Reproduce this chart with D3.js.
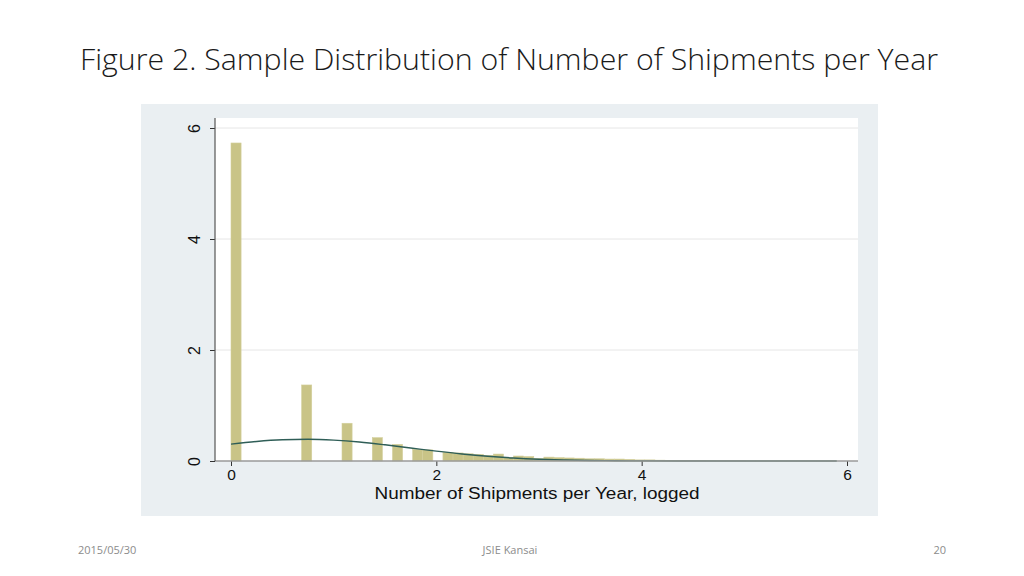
<!DOCTYPE html>
<html>
<head>
<meta charset="utf-8">
<script src="https://cdn.jsdelivr.net/npm/d3@7"></script>
<style>
  body { margin: 0; background: #fff; }
</style>
</head>
<body>
<script>
// Histogram: bin width (log units) and density for each bin starting at 0
var binWidth = 0.0983;
var density = [5.73, 0, 0, 0, 0, 0, 0, 1.37, 0, 0, 0, 0.68, 0, 0, 0.42, 0, 0.30, 0, 0.21, 0.20,
  0, 0.155, 0.145, 0.13, 0.12, 0.10, 0.125, 0.06, 0.09, 0.08, 0.045, 0.07, 0.06, 0.055, 0.05,
  0.04, 0.04, 0.035, 0.035, 0.03, 0.02, 0.02, 0.015, 0.01, 0.01, 0.008, 0.006, 0.005, 0.004,
  0.003, 0.003, 0.002, 0.002, 0.002, 0.001, 0.001, 0.001, 0.001, 0.001, 0.001];

// Normal density overlay
var curveX = [0, 0.25, 0.5, 0.75, 1.0, 1.25, 1.5, 1.75, 2.0, 2.25, 2.5, 2.75, 3.0, 3.25, 3.5, 3.75, 4.0, 4.5, 5.0, 5.9];
var curveY = [0.305, 0.352, 0.382, 0.391, 0.376, 0.342, 0.292, 0.235, 0.178, 0.127, 0.085, 0.054, 0.032, 0.018, 0.0096, 0.0047, 0.0022, 0.0003, 0, 0];

var xTicks = [0, 2, 4, 6];
var yTicks = [0, 2, 4, 6];

var svgWidth = 1024, svgHeight = 576;

var svg = d3.select("body").append("svg")
  .attr("width", svgWidth)
  .attr("height", svgHeight);

// slide title
svg.append("text")
  .attr("x", 80)
  .attr("y", 70)
  .attr("font-family", "Open Sans")
  .attr("font-weight", 300)
  .attr("font-size", 29)
  .attr("fill", "#1a1a1a")
  .attr("textLength", 858)
  .attr("lengthAdjust", "spacingAndGlyphs")
  .text("Figure 2. Sample Distribution of Number of Shipments per Year");

// graph region
svg.append("rect")
  .attr("x", 141).attr("y", 104)
  .attr("width", 737).attr("height", 412)
  .attr("fill", "#eaeff2");

var plot = { left: 215, right: 858, top: 118, bottom: 461 };

svg.append("rect")
  .attr("x", plot.left).attr("y", plot.top)
  .attr("width", plot.right - plot.left).attr("height", plot.bottom - plot.top)
  .attr("fill", "#fff");

var x = d3.scaleLinear().domain([0, 6]).range([231, 847]);
var y = d3.scaleLinear().domain([0, 6]).range([plot.bottom, 128]);

// gridlines
svg.append("g")
  .selectAll("line")
  .data(yTicks.filter(d => d > 0))
  .enter()
  .append("line")
  .attr("x1", plot.left).attr("x2", plot.right)
  .attr("y1", d => y(d)).attr("y2", d => y(d))
  .attr("stroke", "#e6e6e6")
  .attr("stroke-width", 1);

// bars
svg.append("g")
  .selectAll("rect")
  .data(density.map((d, i) => ({ i: i, d: d })).filter(b => b.d > 0))
  .enter()
  .append("rect")
  .attr("x", b => x(b.i * binWidth))
  .attr("width", b => x((b.i + 1) * binWidth) - x(b.i * binWidth))
  .attr("y", b => y(b.d))
  .attr("height", b => y(0) - y(b.d))
  .attr("fill", "#c9c487")
  .attr("stroke", "#d3cf9c")
  .attr("stroke-width", 0.6);

// normal curve
var line = d3.line()
  .x((d, i) => x(curveX[i]))
  .y(d => y(d))
  .curve(d3.curveMonotoneX);

svg.append("path")
  .datum(curveY)
  .attr("d", line)
  .attr("fill", "none")
  .attr("stroke", "#2f5e57")
  .attr("stroke-width", 1.4);

// x axis
var bottomAxis = d3.axisBottom(x).tickValues(xTicks).tickFormat(d3.format("d")).tickSize(5).tickPadding(3);
var gx = svg.append("g")
  .attr("transform", `translate(0, ${plot.bottom})`)
  .call(bottomAxis);
gx.select(".domain").remove();
gx.append("line")
  .attr("x1", plot.left).attr("x2", plot.right)
  .attr("stroke", "#9a9a9a").attr("stroke-width", 1.5);
gx.selectAll(".tick line").attr("stroke", "#333");
gx.selectAll(".tick text")
  .attr("font-family", "Liberation Sans, Arial, sans-serif")
  .attr("font-size", 15.5)
  .attr("fill", "#111");

// y axis
var leftAxis = d3.axisLeft(y).tickValues(yTicks).tickFormat(d3.format("d")).tickSize(5).tickPadding(0);
var gy = svg.append("g")
  .attr("transform", `translate(${plot.left}, 0)`)
  .call(leftAxis);
gy.select(".domain").remove();
gy.append("line")
  .attr("y1", plot.top).attr("y2", plot.bottom)
  .attr("stroke", "#555").attr("stroke-width", 1.2);
gy.selectAll(".tick line").attr("stroke", "#333");
gy.selectAll(".tick text")
  .attr("x", 0).attr("dy", 0)
  .attr("transform", "translate(-15, 0) rotate(-90)")
  .attr("text-anchor", "middle")
  .attr("font-family", "Liberation Sans, Arial, sans-serif")
  .attr("font-size", 16)
  .attr("fill", "#111");

// x axis title
svg.append("text")
  .attr("x", 537)
  .attr("y", 499)
  .attr("text-anchor", "middle")
  .attr("font-family", "Liberation Sans, Arial, sans-serif")
  .attr("font-size", 16)
  .attr("fill", "#111")
  .attr("textLength", 325)
  .attr("lengthAdjust", "spacingAndGlyphs")
  .text("Number of Shipments per Year, logged");

// footer
var footer = svg.append("g")
  .attr("font-family", "Open Sans, sans-serif")
  .attr("font-size", 11)
  .attr("fill", "#8c8c8c");
footer.append("text").attr("x", 78).attr("y", 554).text("2015/05/30");
footer.append("text").attr("x", 510).attr("y", 554).attr("text-anchor", "middle").text("JSIE Kansai");
footer.append("text").attr("x", 946).attr("y", 554).attr("text-anchor", "end").text("20");
</script>
</body>
</html>
